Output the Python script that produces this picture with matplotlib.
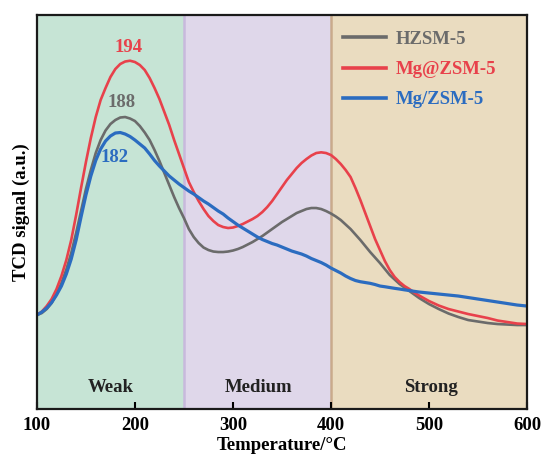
import numpy as np
import matplotlib.pyplot as plt
import matplotlib as mpl

mpl.rcParams['font.family'] = ['Liberation Serif', 'DejaVu Serif']
mpl.rcParams['font.weight'] = 'bold'

# TPD temperature grid (degC)
temp = list(range(100, 490, 5)) + list(range(490, 610, 10))

# TCD signal (a.u.)
hzsm5 = [94, 96, 100, 106, 115, 126, 139.5, 156, 176, 198,
         220, 239, 256, 269, 278.5, 285, 289, 291.5, 292, 290.5,
         288, 283, 276.5, 269, 259, 248, 236, 224, 212, 201,
         191, 180, 172, 166, 161.5, 159, 157.5, 157, 157, 157.5,
         158.5, 160, 162, 164.5, 167, 170, 173, 176.5, 180, 183.5,
         187, 190, 193, 196, 198, 200, 201, 201, 200, 198,
         195.5, 192.5, 189, 184.5, 180, 174.5, 169, 163, 157, 151.5,
         146, 140, 134, 129.5, 125, 121.5, 118, 114.5,
         111, 105, 100, 95.5, 92, 89, 87.5, 86, 85, 84.5, 84, 84]
mg_at = [94, 97.5, 103, 110, 120, 133, 149, 169, 194, 221,
         247, 271, 292, 309, 321, 332, 340, 345, 347.5, 348.3,
         347, 344, 339, 331, 321, 310, 297, 284, 269, 255,
         241, 227, 217, 208, 200, 193, 188, 184, 182, 181,
         181.5, 183, 185, 187.5, 190, 193, 197, 202, 208, 215,
         222, 229, 235, 241, 246, 250, 253.5, 256, 256.7, 256,
         254, 250, 245, 239, 232, 221, 209, 196, 183, 170,
         159, 148, 139, 132, 127, 123, 120, 116.5,
         113.5, 108, 103.5, 100, 97.5, 95, 93, 91, 88.5, 87, 85.5, 85]
mg_slash = [94, 97, 101, 106.5, 114, 123, 135, 150, 169, 192,
            214, 233, 248.5, 260, 268, 273, 276, 276.5, 275, 272.5,
            269, 265, 261, 255, 248.5, 243, 238, 233, 229, 225,
            221.5, 218, 215, 211.5, 208, 205, 201.5, 198, 195, 191,
            187.5, 184, 181, 178, 175, 172, 169.5, 167.5, 165.5, 164,
            162, 160, 158, 156.5, 155, 153, 150.5, 148.5, 146.5, 144,
            141, 138.5, 136, 133, 130.5, 128.5, 127.3, 126.5, 125.7, 124.5,
            123, 122.3, 121.5, 120.7, 120, 119.2, 118.5, 117.7,
            117, 116, 115, 114, 113, 111.5, 110, 108.5, 107, 105.5, 104, 103]

peaks = [194, 188, 182]

regions = [(100, 250, '#c6e4d5', 'Weak', 175),
           (250, 400, '#dfd7ea', 'Medium', 326),
           (400, 600, '#eadcc0', 'Strong', 502)]

fig = plt.figure(figsize=(5.43, 4.55), dpi=100)
ax = fig.add_axes([0.068, 0.101, 0.9025, 0.866])

for x0, x1, c, name, xc in regions:
    ax.axvspan(x0, x1, color=c, lw=0, zorder=0)
    ax.text(xc, 22, name, ha='center', va='center', fontsize=13.5,
            fontweight='bold', color='#222222')
ax.axvline(250, color='#c8b9dc', lw=1.8, zorder=0.5)
ax.axvline(400, color='#c9aa8c', lw=1.8, zorder=0.5)

ax.plot(temp, hzsm5, color='#6b6b6b', lw=1.9, label='HZSM-5', zorder=3)
ax.plot(temp, mg_at, color='#e8414b', lw=1.9, label='Mg@ZSM-5', zorder=3)
ax.plot(temp, mg_slash, color='#2b6cc0', lw=2.3, label='Mg/ZSM-5', zorder=4)

# peak maxima labels
ax.text(peaks[0], 362, '194', ha='center', va='center', fontsize=13.5, color='#e8414b', fontweight='bold')
ax.text(peaks[1] - 1.5, 307, '188', ha='center', va='center', fontsize=13.5, color='#6b6b6b', fontweight='bold')
ax.text(peaks[2] - 2.5, 252, '182', ha='center', va='center', fontsize=13.5, color='#2b6cc0', fontweight='bold')

leg = ax.legend(loc='upper left', bbox_to_anchor=(0.625, 0.96), frameon=False,
                borderpad=0, borderaxespad=0,
                fontsize=13.5, handlelength=2.3, handletextpad=0.5, labelspacing=0.7)
for txt, ln in zip(leg.get_texts(), leg.get_lines()):
    txt.set_color(ln.get_color())
    txt.set_fontweight('bold')
    ln.set_linewidth(2.6)

ax.set_xlim(100, 600)
ax.set_ylim(0, 394)
ax.set_yticks([])
ax.set_xticks([100, 200, 300, 400, 500, 600])
ax.tick_params(axis='x', direction='in', length=5, width=1.5, labelsize=13.5, pad=6)
for lab in ax.get_xticklabels():
    lab.set_fontweight('bold')
for sp in ax.spines.values():
    sp.set_linewidth(1.6)
    sp.set_color('#1a1a1a')
    sp.set_zorder(5)

ax.set_xlabel('Temperature/\u00b0C', fontsize=13.5, fontweight='bold', labelpad=2)
ax.set_ylabel('TCD signal (a.u.)', fontsize=13.5, fontweight='bold', labelpad=5)

fig.savefig('out.png', dpi=100)
